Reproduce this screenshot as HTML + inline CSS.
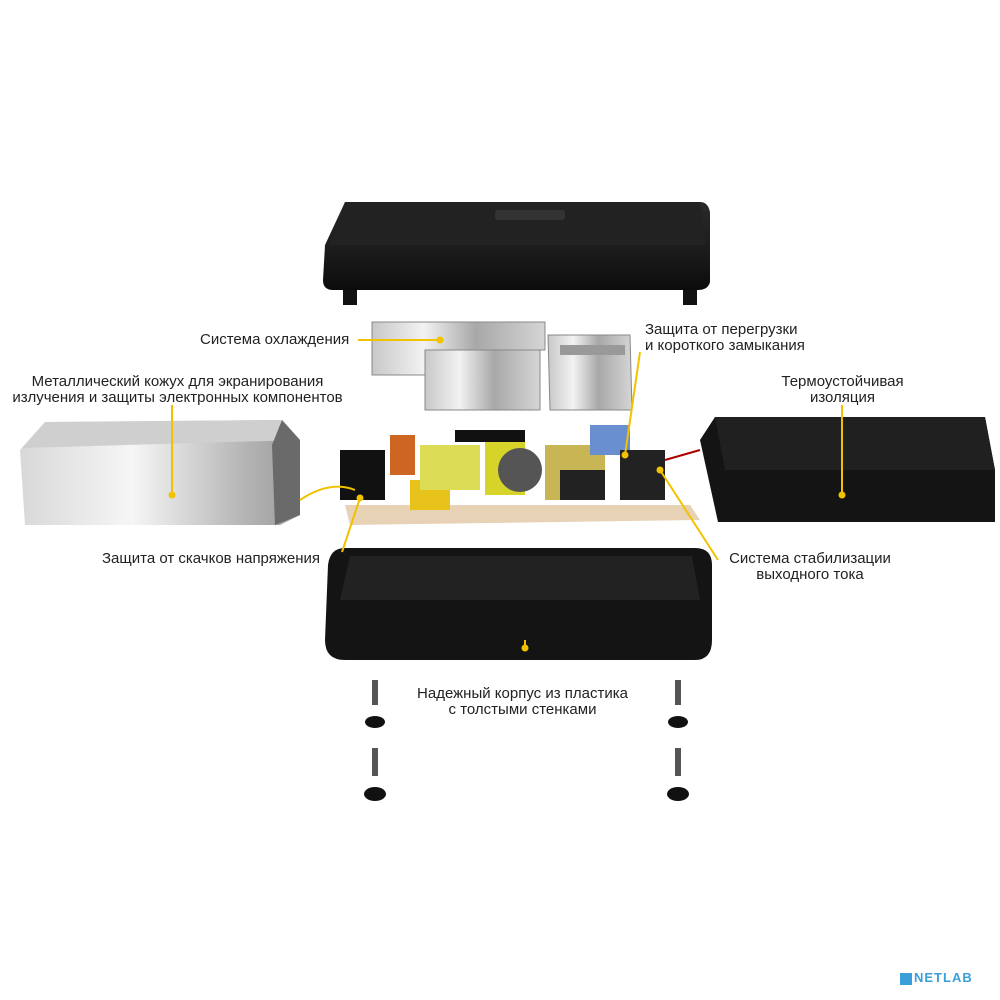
<!DOCTYPE html>
<html><head><meta charset="utf-8"><style>
html,body{margin:0;padding:0;background:#fff;}
body{width:1000px;height:1000px;position:relative;overflow:hidden;font-family:"Liberation Sans",sans-serif;}
.t{position:absolute;font-size:15px;color:#222;line-height:16px;white-space:nowrap;}
svg{position:absolute;left:0;top:0;}
</style></head><body>
<svg width="1000" height="1000" viewBox="0 0 1000 1000">
<defs>
<linearGradient id="lid" x1="0" y1="0" x2="0" y2="1"><stop offset="0" stop-color="#2a2a2a"/><stop offset="0.6" stop-color="#1a1a1a"/><stop offset="1" stop-color="#0c0c0c"/></linearGradient>
<linearGradient id="met" x1="0" y1="0" x2="1" y2="0"><stop offset="0" stop-color="#c8c8c8"/><stop offset="0.3" stop-color="#f2f2f2"/><stop offset="0.6" stop-color="#a8a8a8"/><stop offset="1" stop-color="#d5d5d5"/></linearGradient>
<linearGradient id="box" x1="0" y1="0" x2="1" y2="0"><stop offset="0" stop-color="#d8d8d8"/><stop offset="0.4" stop-color="#f6f6f6"/><stop offset="0.8" stop-color="#b5b5b5"/><stop offset="1" stop-color="#9a9a9a"/></linearGradient>
</defs>
<rect x="343" y="280" width="14" height="25" fill="#111"/>
<rect x="683" y="280" width="14" height="25" fill="#111"/>
<path d="M345 202 L700 202 Q708 202 710 212 L710 282 Q708 290 698 290 L333 290 Q323 290 323 280 L325 245 Z" fill="url(#lid)"/>
<path d="M345 202 L700 202 L706 245 L330 245 Z" fill="#222"/>
<rect x="495" y="210" width="70" height="10" rx="3" fill="#333"/>
<path d="M372 322 L545 322 L545 350 L430 350 L430 375 L372 375 Z" fill="url(#met)" stroke="#888"/>
<rect x="425" y="350" width="115" height="60" fill="url(#met)" stroke="#888"/>
<path d="M548 335 L630 335 L632 410 L550 410 Z" fill="url(#met)" stroke="#888"/>
<rect x="560" y="345" width="65" height="10" fill="#999"/>
<path d="M45 422 L282 420 L300 440 L300 515 L280 525 L25 525 L20 450 Z" fill="url(#box)"/>
<path d="M45 422 L282 420 L300 440 L22 448 Z" fill="#cfcfcf"/>
<path d="M282 420 L300 440 L300 515 L275 525 L272 445 Z" fill="#6a6a6a"/>
<path d="M345 505 L690 505 L700 520 L350 525 Z" fill="#e8d2b5"/>
<rect x="340" y="450" width="45" height="50" fill="#111"/>
<rect x="390" y="435" width="25" height="40" fill="#c62"/>
<rect x="410" y="480" width="40" height="30" fill="#e6c21a"/>
<rect x="420" y="445" width="60" height="45" fill="#dddd55"/>
<rect x="485" y="440" width="40" height="55" fill="#d6d42a"/>
<circle cx="520" cy="470" r="22" fill="#555"/>
<rect x="455" y="430" width="70" height="12" fill="#111"/>
<rect x="545" y="445" width="60" height="55" fill="#c8b655"/>
<rect x="560" y="470" width="45" height="30" fill="#222"/>
<rect x="590" y="425" width="40" height="30" fill="#6a8fd0"/>
<rect x="620" y="450" width="45" height="50" fill="#222"/>
<path d="M665 460 L700 450" stroke="#a00" stroke-width="2"/>
<path d="M715 417 L985 417 L995 470 L995 522 L718 522 L700 440 Z" fill="#141414"/>
<path d="M715 417 L985 417 L995 470 L725 470 Z" fill="#202020"/>
<path d="M345 548 L695 548 Q712 548 712 565 L712 640 Q712 660 695 660 L345 660 Q325 660 325 640 L328 565 Q330 548 345 548 Z" fill="#141414"/>
<path d="M350 556 L692 556 L700 600 L340 600 Z" fill="#222"/>
<g fill="#555">
<rect x="372" y="680" width="6" height="25"/><ellipse cx="375" cy="722" rx="10" ry="6" fill="#111"/>
<rect x="372" y="748" width="6" height="28"/><ellipse cx="375" cy="794" rx="11" ry="7" fill="#111"/>
<rect x="675" y="680" width="6" height="25"/><ellipse cx="678" cy="722" rx="10" ry="6" fill="#111"/>
<rect x="675" y="748" width="6" height="28"/><ellipse cx="678" cy="794" rx="11" ry="7" fill="#111"/>
</g>
<g stroke="#f2c200" stroke-width="2" fill="none">
<path d="M358 340 L440 340"/>
<path d="M172 405 L172 495"/>
<path d="M640 352 L625 455"/>
<path d="M842 405 L842 495"/>
<path d="M342 552 L360 498"/>
<path d="M718 560 L660 470"/>
<path d="M525 640 L525 650"/>
<path d="M300 500 Q330 480 355 490"/>
</g>
<g fill="#f2c200">
<circle cx="440" cy="340" r="3.5"/><circle cx="172" cy="495" r="3.5"/><circle cx="625" cy="455" r="3.5"/>
<circle cx="842" cy="495" r="3.5"/><circle cx="360" cy="498" r="3.5"/><circle cx="660" cy="470" r="3.5"/><circle cx="525" cy="648" r="3.5"/>
</g>
<rect x="900" y="973" width="12" height="12" fill="#3a9ed8"/>
</svg>
<div class="t" style="left:200px;top:332px;">Система охлаждения</div>
<div class="t" style="left:645px;top:322px;">Защита от перегрузки<br>и короткого замыкания</div>
<div class="t" style="left:0px;top:374px;width:355px;text-align:center;">Металлический кожух для экранирования<br>излучения и защиты электронных компонентов</div>
<div class="t" style="left:760px;top:374px;width:165px;text-align:center;">Термоустойчивая<br>изоляция</div>
<div class="t" style="left:102px;top:551px;">Защита от скачков напряжения</div>
<div class="t" style="left:720px;top:551px;width:180px;text-align:center;">Система стабилизации<br>выходного тока</div>
<div class="t" style="left:405px;top:686px;width:235px;text-align:center;">Надежный корпус из пластика<br>с толстыми стенками</div>
<div class="t" style="left:914px;top:970px;font-size:13px;font-weight:bold;color:#3a9ed8;letter-spacing:1px;">NETLAB</div>
</body></html>
